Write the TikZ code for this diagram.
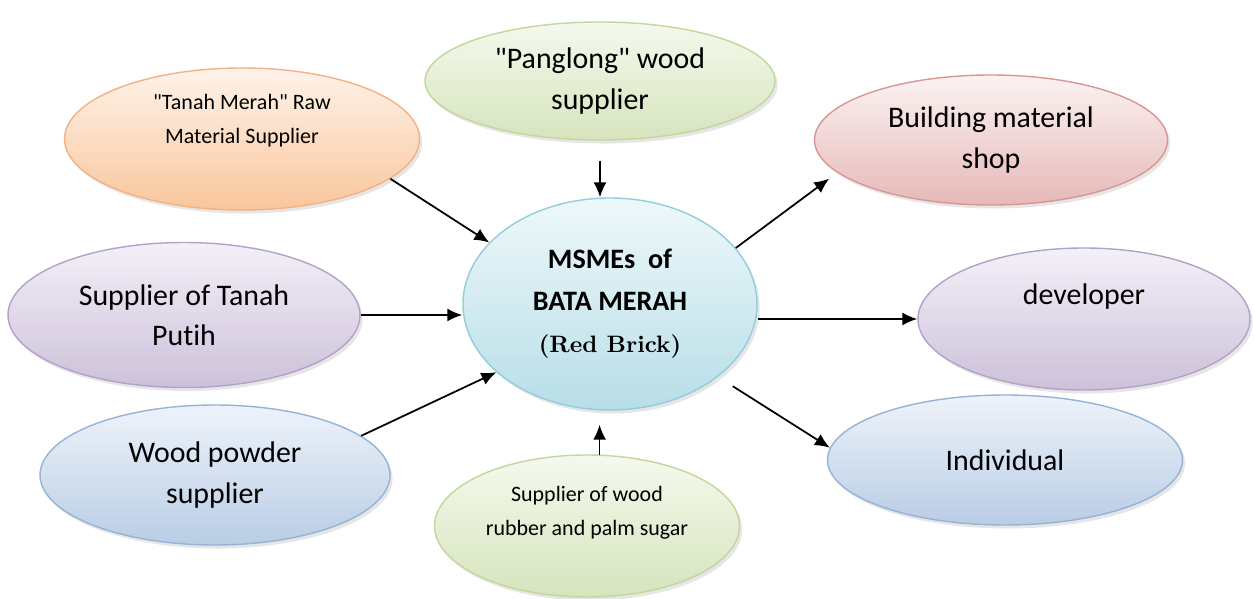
\documentclass[tikz,border=0pt]{standalone}
\usepackage{fontspec}
\setsansfont{Carlito}[Ligatures=NoCommon]
\newfontface\brickfont{lmroman10-bold}[Extension=.otf]
\usepackage{xcolor}
\usetikzlibrary{shapes.geometric,arrows.meta,shadows}

\definecolor{peachline}{HTML}{F4B183}
\definecolor{peachtop}{HTML}{FEF3EA}
\definecolor{peachbot}{HTML}{F9C69C}
\definecolor{leafline}{HTML}{C3D69B}
\definecolor{leaftop}{HTML}{F5F9EE}
\definecolor{leafbot}{HTML}{D6E4BD}
\definecolor{roseline}{HTML}{D99694}
\definecolor{rosetop}{HTML}{FBF2F2}
\definecolor{rosebot}{HTML}{E6B9B8}
\definecolor{lilacline}{HTML}{B3A2C7}
\definecolor{lilactop}{HTML}{F4F0F8}
\definecolor{lilacbot}{HTML}{CCC1DA}
\definecolor{skyline}{HTML}{95B3D7}
\definecolor{skytop}{HTML}{EEF3FA}
\definecolor{skybot}{HTML}{B9CDE5}
\definecolor{hubline}{HTML}{92CDDC}
\definecolor{hubtop}{HTML}{EEF8FA}
\definecolor{hubbot}{HTML}{B7DEE8}

\begin{document}
\begin{tikzpicture}
		\useasboundingbox (0,0) rectangle (25.08,-11.98);
		\tikzstyle{every node}+=[ellipse,draw,line width=0.8pt,inner sep=0pt,align=center,
			font=\sffamily\fontsize{17}{23}\selectfont,
			drop shadow={opacity=0.2,shadow xshift=1.5pt,shadow yshift=-2pt}]
		\tikzstyle{peach}=[draw=peachline,top color=peachtop,bottom color=peachbot]
		\tikzstyle{leaf}=[draw=leafline,top color=leaftop,bottom color=leafbot]
		\tikzstyle{rose}=[draw=roseline,top color=rosetop,bottom color=rosebot]
		\tikzstyle{lilac}=[draw=lilacline,top color=lilactop,bottom color=lilacbot]
		\tikzstyle{sky}=[draw=skyline,top color=skytop,bottom color=skybot]
		\tikzstyle{hub}=[draw=hubline,top color=hubtop,bottom color=hubbot]
		\tikzstyle{small}=[font=\sffamily\fontsize{12.5}{19}\selectfont]
		\node[hub,minimum width=5.88cm,minimum height=4.24cm,font=\sffamily\bfseries\fontsize{16}{24}\selectfont] (c) at (12.2,-6.08)
			{MSMEs\ \ of\\BATA MERAH\\{\brickfont\fontsize{13.5}{24}\selectfont(Red Brick)}};
		\node[leaf,minimum width=7cm,minimum height=2.36cm] (pl) at (12,-1.62) {\textquotedbl Panglong\textquotedbl\ wood\\supplier};
		\node[peach,small,minimum width=7.1cm,minimum height=2.84cm,text depth=0.8cm] (tm) at (4.84,-2.78)
			{\textquotedbl Tanah Merah\textquotedbl\ Raw\\Material Supplier};
		\node[rose,minimum width=7.06cm,minimum height=2.6cm] (bm) at (19.82,-2.8) {Building material\\shop};
		\node[lilac,minimum width=7.04cm,minimum height=2.9cm] (tp) at (3.68,-6.3) {Supplier of Tanah\\Putih};
		\node[lilac,minimum width=6.64cm,minimum height=2.84cm,text depth=1cm] (dv) at (21.68,-6.38) {developer};
		\node[sky,minimum width=7cm,minimum height=2.8cm] (wp) at (4.3,-9.5) {Wood powder\\supplier};
		\node[leaf,small,minimum width=6.1cm,minimum height=2.84cm,text depth=0.6cm] (wr) at (11.74,-10.52)
			{Supplier of wood\\rubber and palm sugar};
		\node[sky,minimum width=7.1cm,minimum height=2.6cm] (iv) at (20.1,-9.2) {Individual};
		\tikzstyle{every edge}+=[line width=1pt,-{Latex[length=3mm,width=2.6mm]}]
		\draw (tm.-15) edge (c.153)
			  (pl.south) edge[shorten <=0.4cm] (pl.south |- c.north)
			  (tp.east) edge (tp.east -| c.west)
			  (wp.15) edge (c.-149)
			  (wr.80) edge[shorten >=0.28cm] (wr.80 |- c.south)
			  (c.24) edge[shorten >=0.2cm] (bm.-168)
			  (dv.west -| c.east) edge (dv.west)
			  (c.-34) edge[shorten <=0.35cm] (iv.176);
		\end{tikzpicture}
\end{document}
